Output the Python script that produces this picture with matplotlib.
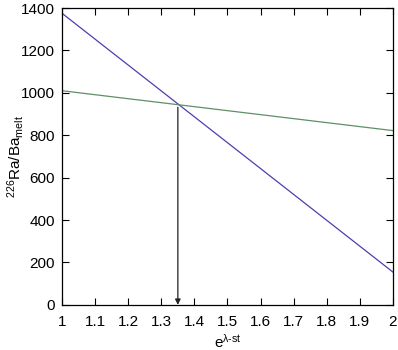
import matplotlib
matplotlib.use("Agg")
import matplotlib.pyplot as plt

plt.rcParams['font.family'] = ['Liberation Sans', 'DejaVu Sans']
plt.rcParams['mathtext.fontset'] = 'custom'
plt.rcParams['mathtext.rm'] = 'Liberation Sans'
plt.rcParams['mathtext.it'] = 'Liberation Sans'

x_vals = [1, 2]
blue_vals = [1375, 155]
green_vals = [1010, 822]
arrow_x = 1.35
arrow_top = 932
arrow_bottom = 0
xticks = [1, 1.1, 1.2, 1.3, 1.4, 1.5, 1.6, 1.7, 1.8, 1.9, 2]
xticklabels = ['1', '1.1', '1.2', '1.3', '1.4', '1.5', '1.6', '1.7', '1.8', '1.9', '2']
yticks = [0, 200, 400, 600, 800, 1000, 1200, 1400]

fig = plt.figure(figsize=(3.98, 3.5), dpi=100)
ax = fig.add_axes([0.156, 0.129, 0.831, 0.848])
ax.plot(x_vals, blue_vals, color='#4a40b0', lw=0.9)
ax.plot(x_vals, green_vals, color='#5f8f66', lw=0.9)
ax.annotate('', xy=(arrow_x, arrow_bottom), xytext=(arrow_x, arrow_top),
            arrowprops=dict(arrowstyle='-|>', color='#222222', lw=0.9,
                            mutation_scale=8, shrinkA=0, shrinkB=0))
ax.set_xlim(1, 2)
ax.set_ylim(0, 1400)
ax.set_xticks(xticks)
ax.set_xticklabels(xticklabels)
ax.set_yticks(yticks)
ax.tick_params(direction='in', top=True, right=True, length=5, width=0.8,
               labelsize=11, pad=5)
ax.tick_params(axis='x', pad=7)
for s in ax.spines.values():
    s.set_linewidth(0.9)
ax.set_xlabel(r'e$^{\mathregular{λ\text{-}st}}$', fontsize=11)
ax.set_ylabel(r'$^{\mathregular{226}}$Ra/Ba$_{\mathregular{melt}}$', fontsize=11)
ax.yaxis.set_label_coords(-0.108, 0.5)
ax.xaxis.set_label_coords(0.5, -0.095)
fig.savefig('out.png', dpi=100)
